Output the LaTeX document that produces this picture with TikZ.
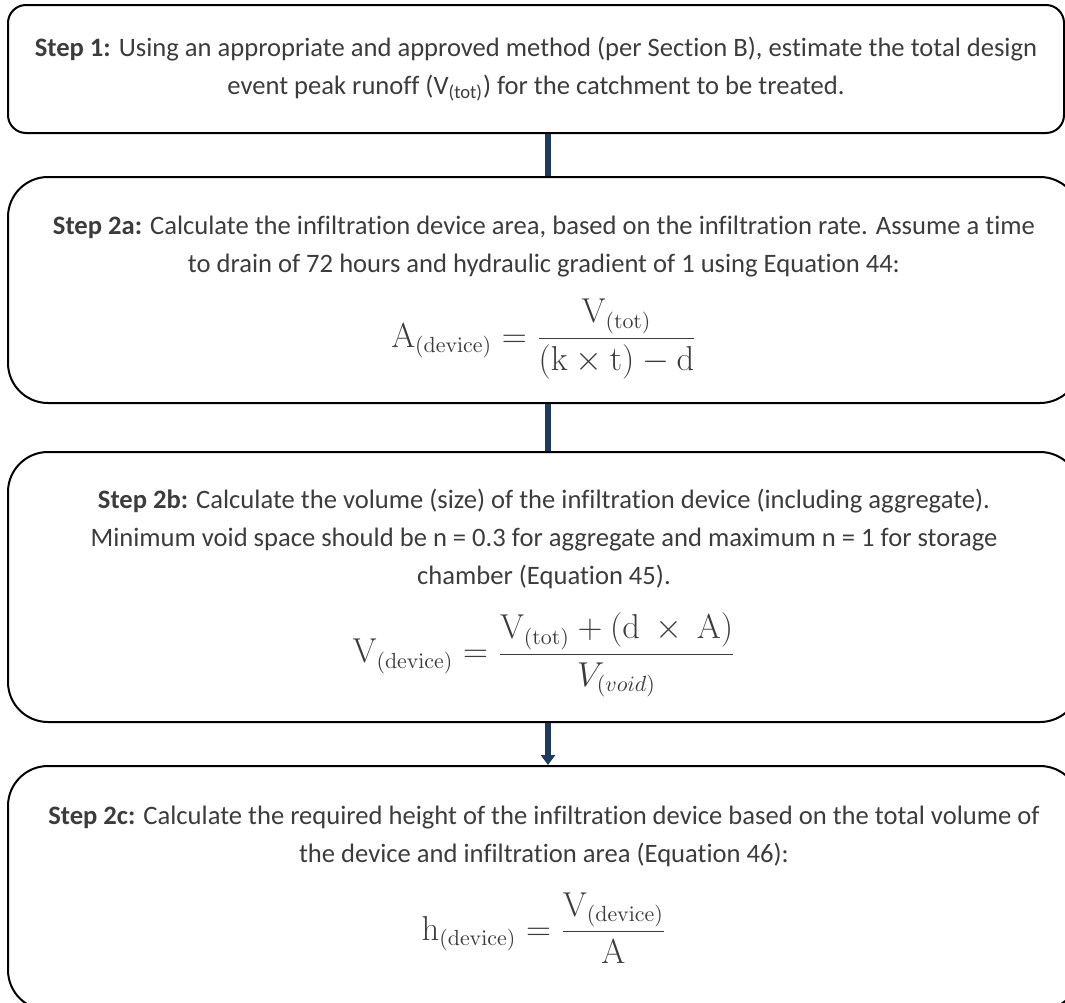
\documentclass[tikz,border=0pt]{standalone}
\usepackage[no-math]{fontspec}
\setmainfont{Carlito}[Ligatures=NoCommon]
\usepackage{amsmath}
\usetikzlibrary{arrows.meta}
\definecolor{bodygray}{HTML}{3C3C3C}
\definecolor{linkblue}{HTML}{1F3A5F}
\newcommand{\eqsize}{\fontsize{16}{18}\selectfont}

\begin{document}
\begin{tikzpicture}[x=0.5pt,y=-0.5pt,font=\fontsize{13.3}{19}\selectfont,
  stepbox/.style={rectangle,draw=black,line width=1pt,text=bodygray,align=center,inner sep=0pt},
  link/.style={draw=linkblue,line width=3pt}]
\clip (0,0) rectangle (1065,1002);
% the four steps
\node[stepbox,rounded corners=9pt,minimum width=528pt,minimum height=64pt] (s1) at (536,69)
  {\textbf{Step 1:} Using an appropriate and approved method (per Section B), estimate the total design\\
   event peak runoff (V\textsubscript{(tot)}) for the catchment to be treated.};
\node[stepbox,rounded corners=20pt,minimum width=536pt,minimum height=113pt] (s2a) at (544,290)
  {\rule{0pt}{17pt}\textbf{Step 2a:} Calculate the infiltration device area, based on the infiltration rate. Assume a time\\
   to drain of 72 hours and hydraulic gradient of 1 using Equation 44:\\[10pt]
   {\eqsize$\mathrm{A}_{(\mathrm{device})} = \dfrac{\mathrm{V}_{(\mathrm{tot})}}{(\mathrm{k}\times\mathrm{t})-\mathrm{d}}$}};
\node[stepbox,rounded corners=20pt,minimum width=536pt,minimum height=135pt] (s2b) at (544,587)
  {\rule{0pt}{16pt}\textbf{Step 2b:} Calculate the volume (size) of the infiltration device (including aggregate).\\
   Minimum void space should be n = 0.3 for aggregate and maximum n = 1 for storage\\
   chamber (Equation 45).\\[11pt]
   {\eqsize$\mathrm{V}_{(\mathrm{device})} = \dfrac{\mathrm{V}_{(\mathrm{tot})} + (\mathrm{d}\ \times\ \mathrm{A})}{V_{(void)}}$}};
\node[stepbox,rounded corners=20pt,minimum width=536pt,minimum height=122pt] (s2c) at (544,888)
  {\textbf{Step 2c:} Calculate the required height of the infiltration device based on the total volume of\\
   the device and infiltration area (Equation 46):\\[12pt]
   {\eqsize$\mathrm{h}_{(\mathrm{device})} = \dfrac{\mathrm{V}_{(\mathrm{device})}}{\mathrm{A}}$}\rule[-15pt]{0pt}{15pt}};
% connectors
\coordinate (axis) at (548,0);
\draw[link] (s1.south -| axis) -- (s2a.north -| axis);
\draw[link] (s2a.south -| axis) -- (s2b.north -| axis);
\draw[link,-{Triangle[length=5pt,width=7pt]}] (s2b.south -| axis) -- (s2c.north -| axis);
\end{tikzpicture}
\end{document}
